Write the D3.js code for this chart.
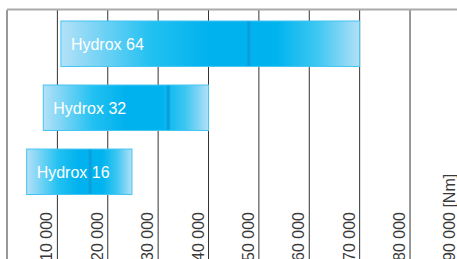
<!DOCTYPE html>
<html>
<head>
<meta charset="utf-8">
<script src="https://cdn.jsdelivr.net/npm/d3@7"></script>
<style>
  html, body { margin: 0; padding: 0; background: #fff; }
  svg { display: block; font-family: "Liberation Sans", Arial, sans-serif; }
</style>
</head>
<body>
<div id="chart"></div>
<script>
// torque ranges per tool (Nm)
var products = ['Hydrox 64', 'Hydrox 32', 'Hydrox 16'];
var minTorque = [10700, 7200, 3900];
var maxTorque = [70000, 40000, 24800];
var markTorque = [48000, 32000, 16500];

var tickValues = [0, 10000, 20000, 30000, 40000, 50000, 60000, 70000, 80000, 90000];
var tickLabels = ['', '10 000', '20 000', '30 000', '40 000', '50 000',
                  '60 000', '70 000', '80 000', '90 000 [Nm]'];

var width = 457, height = 259;

var svg = d3.select('#chart')
  .append('svg')
    .attr('width', width)
    .attr('height', height);

var x = d3.scaleLinear()
  .domain([0, 90000])
  .range([7, 460.4]);

var y = d3.scaleBand()
  .domain(products)
  .range([21, 194.5])
  .paddingInner(0.29)
  .paddingOuter(0);

// bar gradient: light at both ends, full cyan in the middle
var grad = svg.append('defs')
  .append('linearGradient')
    .attr('id', 'barGrad')
    .attr('x1', '0%').attr('x2', '100%')
    .attr('y1', '0%').attr('y2', '0%');

[
  { o: '0%',   c: '#b4e1f8' },
  { o: '30%',  c: '#22c1f1' },
  { o: '50%',  c: '#00b1ee' },
  { o: '72%',  c: '#00b4ef' },
  { o: '86%',  c: '#3ec7f2' },
  { o: '100%', c: '#b2e0f7' }
].forEach(function(s) {
  grad.append('stop').attr('offset', s.o).attr('stop-color', s.c);
});

// vertical grid lines
svg.append('g')
  .attr('class', 'grid')
  .selectAll('line')
  .data(tickValues)
  .enter()
    .append('line')
      .attr('x1', function(d) { return x(d); })
      .attr('x2', function(d) { return x(d); })
      .attr('y1', 10)
      .attr('y2', height)
      .attr('stroke', '#333')
      .attr('stroke-width', 1);

// top rule
svg.append('line')
  .attr('x1', x(0)).attr('x2', width)
  .attr('y1', 9.5).attr('y2', 9.5)
  .attr('stroke', '#aaa')
  .attr('stroke-width', 2);

// rotated tick labels, sitting just left of each grid line
svg.append('g')
  .attr('class', 'ticks')
  .selectAll('text')
  .data(tickValues)
  .enter()
    .append('text')
      .attr('transform', function(d) {
        return 'translate(' + (x(d) - 5) + ',' + 261 + ') rotate(-90)';
      })
      .attr('font-size', 16)
      .attr('fill', '#3a3a3a')
      .text(function(d, i) { return tickLabels[i]; });

var bars = svg.append('g')
  .attr('class', 'bars')
  .selectAll('g')
  .data(products)
  .enter()
    .append('g');

bars.append('rect')
  .attr('x', function(d, i) { return x(minTorque[i]); })
  .attr('y', function(d) { return y(d); })
  .attr('width', function(d, i) { return x(maxTorque[i]) - x(minTorque[i]); })
  .attr('height', y.bandwidth())
  .attr('fill', 'url(#barGrad)')
  .attr('stroke', '#45c4f1')
  .attr('stroke-width', 1);

bars.append('rect')
  .attr('x', function(d, i) { return x(markTorque[i]) - 1.5; })
  .attr('y', function(d) { return y(d) + 0.5; })
  .attr('width', 3)
  .attr('height', y.bandwidth() - 1)
  .attr('fill', '#0a9fdc');

bars.append('text')
  .attr('x', function(d, i) { return x(minTorque[i]) + 10; })
  .attr('y', function(d) { return y(d) + y.bandwidth() / 2 + 6; })
  .attr('font-size', 16)
  .attr('fill', '#fff')
  .text(function(d) { return d; });
</script>
</body>
</html>
